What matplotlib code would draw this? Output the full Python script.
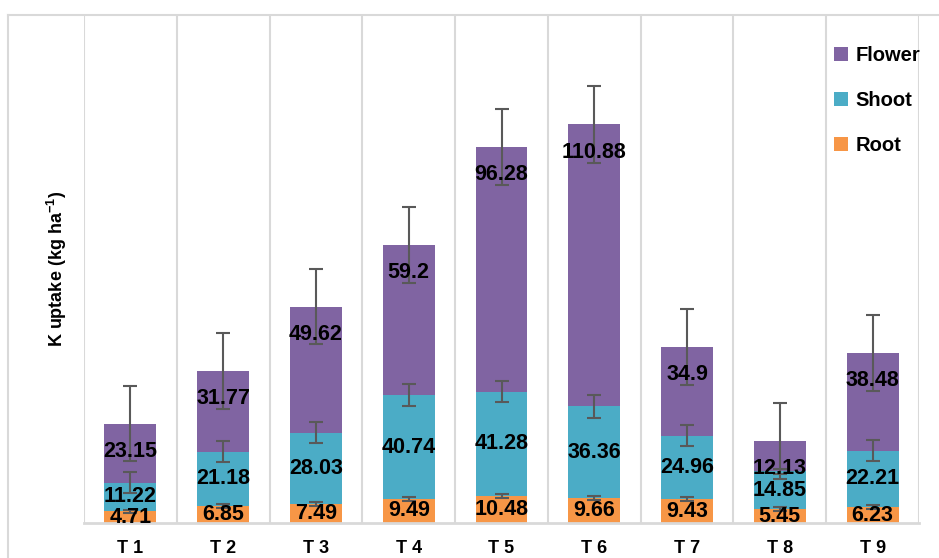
import matplotlib.pyplot as plt
from matplotlib.lines import Line2D
import numpy as np

plt.rcParams['font.family'] = ['Liberation Sans', 'DejaVu Sans']
plt.rcParams['mathtext.fontset'] = 'custom'
plt.rcParams['mathtext.bf'] = 'Liberation Sans:bold'
plt.rcParams['mathtext.rm'] = 'Liberation Sans'

# data
treatments = ['T1', 'T2', 'T3', 'T4', 'T5', 'T6', 'T7', 'T8', 'T9']
root = [4.71, 6.85, 7.49, 9.49, 10.48, 9.66, 9.43, 5.45, 6.23]
shoot = [11.22, 21.18, 28.03, 40.74, 41.28, 36.36, 24.96, 14.85, 22.21]
flower = [23.15, 31.77, 49.62, 59.2, 96.28, 110.88, 34.9, 12.13, 38.48]
root_err = [0.6, 0.8, 0.8, 0.8, 0.8, 0.8, 0.8, 0.8, 0.8]
shoot_err = [4.1, 4.1, 4.1, 4.3, 4.3, 4.5, 4.1, 1.0, 4.1]
flower_err = [14.8, 15.0, 14.8, 14.8, 14.8, 15.0, 14.8, 15.0, 14.8]

colors = {'Root': '#F79646', 'Shoot': '#4BACC6', 'Flower': '#8064A2'}
grid_col = '#D9D9D9'

fig = plt.figure(figsize=(9.39, 5.58), dpi=100)
W, H = 939, 558
ax = fig.add_axes([84 / W, 1 - 523 / H, (919 - 84) / W, (523 - 15) / H])

x = np.arange(len(treatments))
r = np.array(root)
s = np.array(shoot)
f = np.array(flower)
bw = 0.56

ax.bar(x, r, bw, color=colors['Root'], label='Root', zorder=2)
ax.bar(x, s, bw, bottom=r, color=colors['Shoot'], label='Shoot', zorder=2)
ax.bar(x, f, bw, bottom=r + s, color=colors['Flower'], label='Flower', zorder=2)

eb = dict(fmt='none', ecolor='#595959', elinewidth=1.5, capsize=5, capthick=1.5, zorder=3)
ax.errorbar(x, r, yerr=root_err, **eb)
ax.errorbar(x, r + s, yerr=shoot_err, **eb)
ax.errorbar(x, r + s + f, yerr=flower_err, **eb)

lab = dict(ha='center', va='center', fontsize=15.5, fontweight='bold', color='black', zorder=4, clip_on=True)
for i in x:
    ax.text(i, r[i] / 2, '{:g}'.format(root[i]), **lab)
    ax.text(i, r[i] + s[i] / 2, '{:g}'.format(shoot[i]), **lab)
    ax.annotate('{:g}'.format(flower[i]), xy=(i, r[i] + s[i] + f[i]), xytext=(0, -20),
                textcoords='offset points', **lab)

ax.set_xlim(-0.5, len(treatments) - 0.5)
ax.set_ylim(0, 200)
ax.set_yticks([])
ax.set_xticks(x)
ax.set_xticklabels([t[0] + ' ' + t[1:] for t in treatments], fontsize=13, fontweight='bold')
ax.tick_params(axis='x', length=0, pad=12)
ax.set_xticks(np.arange(-0.5, len(treatments), 1), minor=True)
ax.tick_params(axis='x', which='minor', length=0)
ax.grid(axis='x', which='minor', color=grid_col, lw=1.5, zorder=0)
for side in ['left', 'right', 'top']:
    ax.spines[side].set_visible(False)
ax.spines['bottom'].set_color(grid_col)
ax.spines['bottom'].set_linewidth(2)

fig.text(57 / W, 1 - 269 / H, 'K uptake (kg ha$^{\\mathbf{-1}}$)', rotation=90, ha='center', va='center',
         fontsize=13, fontweight='bold')

# chart border
fig.add_artist(Line2D([8 / W, 8 / W], [0, 1 - 15 / H], color=grid_col, lw=1.5))
fig.add_artist(Line2D([8 / W, 1], [1 - 15 / H, 1 - 15 / H], color=grid_col, lw=1.5))

handles, labels = ax.get_legend_handles_labels()
leg = fig.legend(handles[::-1], labels[::-1], loc='upper left', bbox_to_anchor=(826 / W, 1 - 38 / H),
                 frameon=False, fontsize=14.5, handlelength=0.7, handleheight=0.7, handletextpad=0.35,
                 labelspacing=1.28, borderaxespad=0)
for t in leg.get_texts():
    t.set_fontweight('bold')

fig.savefig('out.png', dpi=100)
